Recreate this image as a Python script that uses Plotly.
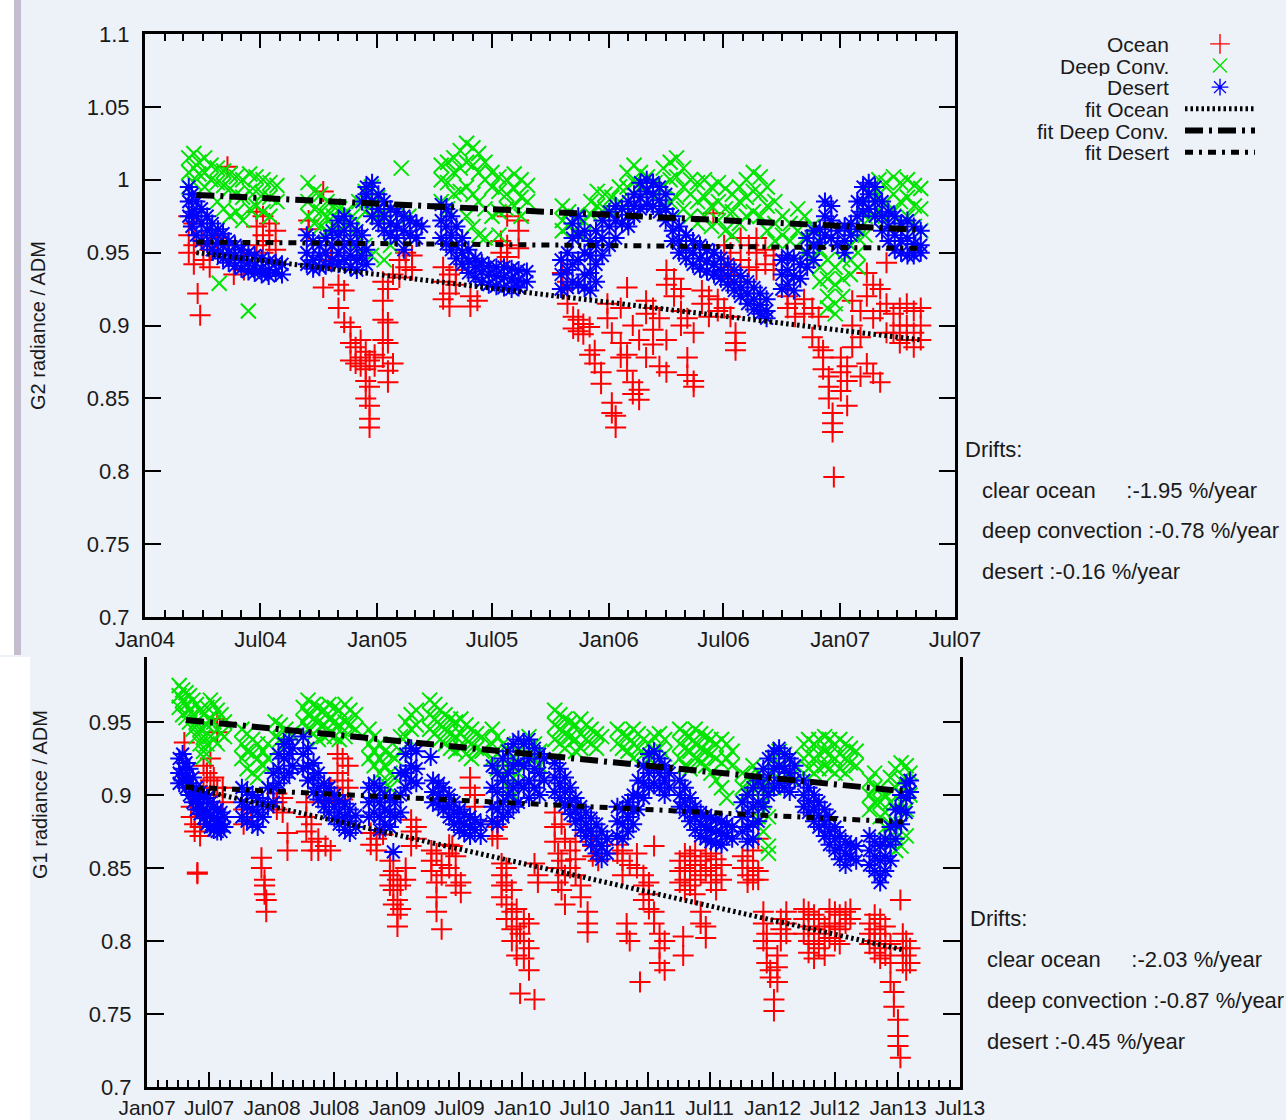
import plotly.graph_objects as go

# ---------------- DATA ----------------
# Top panel: G2 radiance / ADM, 2004-2007
g2_ocean = [
    ("2004-03-10", [0.975, 0.962, 0.950]), ("2004-03-18", [0.970, 0.955, 0.942]),
    ("2004-03-24", [0.922]), ("2004-03-28", [0.907]), ("2004-04-02", [0.958, 0.945]),
    ("2004-04-12", [0.952, 0.940]), ("2004-04-22", [0.960]), ("2004-05-10", [1.009, 0.955]),
    ("2004-05-20", [0.945, 0.935]), ("2004-06-05", [0.948, 0.938]),
    ("2004-06-25", [0.978, 0.968, 0.955]), ("2004-07-05", [0.975, 0.962, 0.950]),
    ("2004-07-15", [0.970, 0.958]), ("2004-07-25", [0.965, 0.952]),
    ("2004-09-15", [0.972, 0.966]), ("2004-10-08", [0.992, 0.926]), ("2004-10-20", [0.945]),
    ("2004-11-01", [0.928, 0.912]), ("2004-11-10", [0.924, 0.902]),
    ("2004-11-20", [0.899, 0.888, 0.876]), ("2004-11-28", [0.885, 0.874]),
    ("2004-12-06", [0.890, 0.878, 0.872]), ("2004-12-14", [0.882, 0.870, 0.862, 0.850]),
    ("2004-12-20", [0.876, 0.858, 0.845, 0.836, 0.830]), ("2004-12-28", [0.880, 0.872]),
    ("2005-01-10", [0.930, 0.917, 0.904, 0.890, 0.878]),
    ("2005-01-18", [0.925, 0.902, 0.888, 0.869, 0.861]), ("2005-01-26", [0.935, 0.874]),
    ("2005-02-05", [0.945, 0.933]), ("2005-02-15", [0.950, 0.940]), ("2005-02-25", [0.948, 0.938]),
    ("2005-04-15", [0.940, 0.930, 0.918]), ("2005-04-25", [0.935, 0.922, 0.913]),
    ("2005-05-05", [0.938, 0.928]), ("2005-05-28", [0.920, 0.913]), ("2005-06-08", [0.917]),
    ("2005-07-15", [0.958, 0.950]), ("2005-07-25", [0.955, 0.947, 0.975]),
    ("2005-08-12", [0.972, 0.965, 0.953]),
    ("2005-10-20", [0.936, 0.925]), ("2005-10-28", [0.930, 0.915]),
    ("2005-11-06", [0.906, 0.898]), ("2005-11-14", [0.904, 0.896]), ("2005-11-22", [0.901, 0.894]),
    ("2005-12-02", [0.899, 0.880]), ("2005-12-10", [0.883, 0.874]), ("2005-12-20", [0.868, 0.860]),
    ("2005-12-30", [0.915, 0.905]), ("2006-01-06", [0.847, 0.840, 0.895]),
    ("2006-01-12", [0.838, 0.830]), ("2006-01-20", [0.888, 0.878, 0.912]),
    ("2006-01-30", [0.926, 0.880, 0.869]), ("2006-02-08", [0.900, 0.861, 0.853]),
    ("2006-02-18", [0.890, 0.856, 0.849]), ("2006-03-01", [0.917, 0.908, 0.878]),
    ("2006-03-12", [0.912, 0.897, 0.887]), ("2006-03-22", [0.905, 0.872]),
    ("2006-04-02", [0.938, 0.928, 0.890, 0.868]), ("2006-04-14", [0.932, 0.920]),
    ("2006-04-25", [0.925, 0.910, 0.900]), ("2006-05-05", [0.905, 0.878, 0.866]),
    ("2006-05-15", [0.895, 0.862, 0.858]), ("2006-05-28", [0.924, 0.915]),
    ("2006-06-08", [0.920, 0.906]), ("2006-06-15", [0.977]), ("2006-06-22", [0.918, 0.910]),
    ("2006-07-02", [0.955, 0.940, 0.912]), ("2006-07-12", [0.950, 0.935, 0.906]),
    ("2006-07-20", [0.895, 0.888, 0.883]), ("2006-07-28", [0.960, 0.945, 0.930]),
    ("2006-08-10", [0.955, 0.940]), ("2006-08-22", [0.960, 0.950, 0.938]),
    ("2006-09-05", [0.952, 0.942]), ("2006-09-18", [0.948, 0.938]),
    ("2006-10-10", [0.920, 0.912]), ("2006-10-22", [0.915, 0.906]),
    ("2006-11-05", [0.918, 0.908]), ("2006-11-18", [0.912, 0.892]), ("2006-11-28", [0.885, 0.906]),
    ("2006-12-05", [0.878, 0.870, 0.883]), ("2006-12-14", [0.865, 0.858, 0.850]),
    ("2006-12-20", [0.840, 0.833, 0.827]), ("2006-12-22", [0.796]),
    ("2007-01-02", [0.878, 0.868, 0.855]), ("2007-01-12", [0.872, 0.862, 0.845]),
    ("2007-01-20", [0.917, 0.900, 0.885]), ("2007-02-02", [0.910, 0.892, 0.865]),
    ("2007-02-12", [0.936, 0.920, 0.874]), ("2007-02-22", [0.928, 0.905, 0.867]),
    ("2007-03-05", [0.925, 0.910, 0.861]), ("2007-03-15", [0.943, 0.915, 0.895]),
    ("2007-03-26", [0.908, 0.895]), ("2007-04-05", [0.912, 0.900, 0.888]),
    ("2007-04-16", [0.915, 0.900, 0.890]), ("2007-04-27", [0.910, 0.895, 0.885]),
    ("2007-05-08", [0.912, 0.900, 0.890]),
]
g2_deepconv = [
    ("2004-03-10", [1.015, 1.005, 0.995]), ("2004-03-18", [1.018, 1.008, 0.998]),
    ("2004-03-26", [1.012, 1.004]), ("2004-04-04", [1.015, 1.005, 0.995]),
    ("2004-04-14", [1.010, 1.000]), ("2004-04-24", [1.008, 0.998, 0.985]),
    ("2004-04-27", [0.929]), ("2004-05-04", [1.006, 0.996, 0.980]),
    ("2004-05-14", [1.004, 0.994, 0.975]), ("2004-05-24", [1.002, 0.990, 0.978]),
    ("2004-06-03", [1.000, 0.988, 0.972]), ("2004-06-12", [0.910]),
    ("2004-06-14", [1.004, 0.992, 0.980]), ("2004-06-24", [1.002, 0.992, 0.982]),
    ("2004-07-05", [1.000, 0.990, 0.978]), ("2004-07-16", [0.998, 0.988, 0.975]),
    ("2004-07-27", [0.996, 0.985]),
    ("2004-09-14", [0.998, 0.985, 0.975]), ("2004-09-24", [0.992, 0.980, 0.970]),
    ("2004-10-04", [0.990, 0.978, 0.968]), ("2004-10-14", [0.985, 0.975, 0.965]),
    ("2004-10-24", [0.982, 0.975, 0.968]), ("2004-11-03", [0.980, 0.972]),
    ("2004-11-13", [0.978, 0.970]), ("2004-11-23", [0.975, 0.965]),
    ("2004-12-03", [0.985, 0.960, 0.950]), ("2004-12-13", [0.992, 0.978, 0.955]),
    ("2004-12-23", [0.995, 0.982, 0.948]), ("2005-01-02", [0.988, 0.975]),
    ("2005-01-12", [0.978, 0.945]), ("2005-01-22", [0.970, 0.955]),
    ("2005-02-08", [1.008]), ("2005-02-20", [0.975]),
    ("2005-04-12", [1.010, 1.000, 0.985]), ("2005-04-22", [1.012, 0.998, 0.980]),
    ("2005-05-02", [1.015, 1.005, 0.990]), ("2005-05-12", [1.020, 1.008, 0.992]),
    ("2005-05-22", [1.025, 1.012, 0.995, 0.975]), ("2005-06-01", [1.022, 1.010, 0.990, 0.968]),
    ("2005-06-10", [1.018, 1.005, 0.985, 0.962]), ("2005-06-20", [1.012, 1.000, 0.980, 0.960]),
    ("2005-07-01", [1.005, 0.995, 0.975]), ("2005-07-12", [1.002, 0.992, 0.978, 0.962]),
    ("2005-07-24", [1.000, 0.990, 0.980]), ("2005-08-05", [1.004, 0.994, 0.982]),
    ("2005-08-16", [1.000, 0.988, 0.975]), ("2005-08-26", [0.996, 0.985]),
    ("2005-10-20", [0.982, 0.972, 0.965]), ("2005-10-30", [0.978, 0.968]),
    ("2005-11-10", [0.975, 0.965]), ("2005-11-22", [0.972, 0.962]),
    ("2005-12-04", [0.985, 0.976]), ("2005-12-14", [0.992, 0.982]),
    ("2005-12-26", [0.990, 0.980]), ("2006-01-06", [0.988, 0.978]),
    ("2006-01-18", [0.995, 0.985]), ("2006-01-30", [1.005, 0.995]),
    ("2006-02-10", [1.010, 0.998]), ("2006-02-20", [1.005, 0.995]),
    ("2006-03-03", [1.002, 0.992]), ("2006-03-15", [0.998, 0.988]),
    ("2006-03-28", [1.008, 0.996, 0.982]), ("2006-04-08", [1.012, 1.000, 0.985]),
    ("2006-04-18", [1.015, 1.002, 0.988]), ("2006-04-29", [1.008, 0.995, 0.980]),
    ("2006-05-10", [1.000, 0.990, 0.975]), ("2006-05-21", [0.998, 0.985, 0.970]),
    ("2006-06-01", [1.000, 0.988, 0.975]), ("2006-06-12", [0.995, 0.982, 0.968]),
    ("2006-06-23", [0.998, 0.985, 0.972]), ("2006-07-04", [0.994, 0.980, 0.965]),
    ("2006-07-15", [0.990, 0.978, 0.962]), ("2006-07-26", [0.995, 0.985, 0.970]),
    ("2006-08-06", [1.000, 0.988, 0.975]), ("2006-08-17", [1.005, 0.992, 0.978]),
    ("2006-08-28", [1.002, 0.990, 0.975]), ("2006-09-08", [0.995, 0.982, 0.965]),
    ("2006-09-20", [0.985, 0.970, 0.958]), ("2006-10-02", [0.975, 0.962]),
    ("2006-10-14", [0.970, 0.958]), ("2006-10-26", [0.980, 0.965]),
    ("2006-11-06", [0.975, 0.960, 0.950]), ("2006-11-18", [0.968, 0.955, 0.945]),
    ("2006-11-30", [0.952, 0.940, 0.930]), ("2006-12-12", [0.945, 0.932, 0.920, 0.912]),
    ("2006-12-24", [0.940, 0.928, 0.915, 0.908]), ("2007-01-05", [0.945, 0.932, 0.920]),
    ("2007-01-17", [0.955, 0.945, 0.935]), ("2007-01-29", [0.960, 0.950, 0.940]),
    ("2007-02-09", [0.975, 0.962]), ("2007-02-20", [0.990, 0.975]),
    ("2007-03-03", [1.000, 0.990, 0.978]), ("2007-03-14", [0.998, 0.985, 0.972]),
    ("2007-03-26", [1.002, 0.990, 0.978]), ("2007-04-06", [0.998, 0.985, 0.970]),
    ("2007-04-17", [1.000, 0.988, 0.975]), ("2007-04-28", [0.996, 0.982, 0.968]),
    ("2007-05-08", [0.994, 0.980, 0.965]),
]
g2_desert = [
    ("2004-03-10", [0.995, 0.985, 0.975]), ("2004-03-15", [0.990, 0.978, 0.968]),
    ("2004-03-22", [0.985, 0.975, 0.962]), ("2004-03-30", [0.980, 0.970, 0.958]),
    ("2004-04-08", [0.975, 0.965, 0.956]), ("2004-04-16", [0.970, 0.962, 0.952]),
    ("2004-04-25", [0.966, 0.957, 0.949]), ("2004-05-03", [0.963, 0.955, 0.946]),
    ("2004-05-12", [0.958, 0.950, 0.943]), ("2004-05-22", [0.955, 0.948, 0.941]),
    ("2004-06-01", [0.952, 0.945, 0.939]), ("2004-06-12", [0.950, 0.943, 0.937]),
    ("2004-06-22", [0.948, 0.941, 0.936]), ("2004-07-03", [0.946, 0.939, 0.935]),
    ("2004-07-14", [0.944, 0.938, 0.934]), ("2004-07-25", [0.943, 0.936]),
    ("2004-08-04", [0.942, 0.935]),
    ("2004-09-12", [0.962, 0.950, 0.942]), ("2004-09-22", [0.958, 0.945, 0.939]),
    ("2004-10-02", [0.955, 0.948, 0.940]), ("2004-10-12", [0.960, 0.950, 0.941]),
    ("2004-10-22", [0.965, 0.955, 0.944]), ("2004-11-01", [0.972, 0.962, 0.950, 0.942]),
    ("2004-11-10", [0.975, 0.965, 0.955, 0.945]), ("2004-11-20", [0.970, 0.958, 0.948, 0.940]),
    ("2004-11-30", [0.965, 0.955, 0.945, 0.938]), ("2004-12-08", [0.985, 0.962, 0.948]),
    ("2004-12-15", [0.995, 0.990, 0.952, 0.942]), ("2004-12-24", [0.998, 0.985, 0.975]),
    ("2005-01-03", [0.990, 0.980, 0.970]), ("2005-01-12", [0.985, 0.975, 0.965]),
    ("2005-01-22", [0.980, 0.970, 0.962]), ("2005-02-01", [0.978, 0.968, 0.960]),
    ("2005-02-12", [0.975, 0.965, 0.952]), ("2005-02-22", [0.972, 0.962]),
    ("2005-03-04", [0.970, 0.960]), ("2005-03-12", [0.968]),
    ("2005-04-12", [0.983, 0.972, 0.960]), ("2005-04-20", [0.980, 0.968, 0.956]),
    ("2005-04-28", [0.975, 0.962, 0.952]), ("2005-05-06", [0.968, 0.955, 0.946]),
    ("2005-05-15", [0.960, 0.950, 0.942]), ("2005-05-25", [0.952, 0.944, 0.936]),
    ("2005-06-05", [0.946, 0.940, 0.933]), ("2005-06-15", [0.943, 0.937, 0.930]),
    ("2005-06-26", [0.941, 0.935, 0.928]), ("2005-07-08", [0.940, 0.934, 0.927]),
    ("2005-07-20", [0.940, 0.933, 0.926]), ("2005-08-01", [0.939, 0.932, 0.925]),
    ("2005-08-12", [0.938, 0.931, 0.926]), ("2005-08-25", [0.937, 0.930]),
    ("2005-10-18", [0.945, 0.935, 0.925]), ("2005-10-28", [0.950, 0.938, 0.926]),
    ("2005-11-05", [0.970, 0.960, 0.942, 0.930]), ("2005-11-14", [0.975, 0.962, 0.945, 0.928]),
    ("2005-11-24", [0.965, 0.950, 0.935, 0.926]), ("2005-12-03", [0.958, 0.948, 0.936, 0.924]),
    ("2005-12-12", [0.965, 0.955, 0.942, 0.930]), ("2005-12-22", [0.972, 0.960, 0.948]),
    ("2006-01-02", [0.978, 0.968, 0.955]), ("2006-01-12", [0.982, 0.972, 0.960]),
    ("2006-01-22", [0.980, 0.970]), ("2006-02-01", [0.985, 0.976, 0.968]),
    ("2006-02-10", [0.990, 0.982, 0.975]), ("2006-02-20", [0.998, 0.988, 0.980]),
    ("2006-03-02", [1.000, 0.992, 0.983]), ("2006-03-12", [0.998, 0.990, 0.982]),
    ("2006-03-22", [0.995, 0.986, 0.978]), ("2006-04-01", [0.990, 0.980, 0.972]),
    ("2006-04-12", [0.975, 0.965, 0.958]), ("2006-04-22", [0.968, 0.958, 0.950]),
    ("2006-05-03", [0.962, 0.953, 0.946]), ("2006-05-14", [0.958, 0.950, 0.942]),
    ("2006-05-25", [0.955, 0.946, 0.939]), ("2006-06-05", [0.952, 0.944, 0.937]),
    ("2006-06-16", [0.950, 0.942, 0.935]), ("2006-06-27", [0.946, 0.938, 0.932]),
    ("2006-07-08", [0.942, 0.934, 0.928]), ("2006-07-18", [0.938, 0.930, 0.924]),
    ("2006-07-28", [0.934, 0.926, 0.920]), ("2006-08-08", [0.930, 0.922, 0.915]),
    ("2006-08-18", [0.926, 0.918, 0.911]), ("2006-08-28", [0.922, 0.914, 0.908]),
    ("2006-09-07", [0.918, 0.910, 0.905]),
    ("2006-10-01", [0.945, 0.935, 0.925]), ("2006-10-10", [0.948, 0.938, 0.928]),
    ("2006-10-20", [0.946, 0.934, 0.924]), ("2006-10-30", [0.942, 0.932]),
    ("2006-11-10", [0.960, 0.950, 0.940]), ("2006-11-20", [0.965, 0.955, 0.945]),
    ("2006-11-30", [0.966, 0.957]), ("2006-12-08", [0.985, 0.975, 0.962]),
    ("2006-12-18", [0.982, 0.972, 0.960]), ("2006-12-28", [0.965, 0.955]),
    ("2007-01-08", [0.968, 0.958, 0.950]), ("2007-01-18", [0.970, 0.962]),
    ("2007-01-28", [0.985, 0.975, 0.966]), ("2007-02-06", [0.995, 0.985, 0.978]),
    ("2007-02-15", [0.998, 0.990, 0.980]), ("2007-02-25", [0.995, 0.985, 0.975]),
    ("2007-03-08", [0.985, 0.975, 0.965]), ("2007-03-18", [0.978, 0.968, 0.958]),
    ("2007-03-28", [0.975, 0.962, 0.952]), ("2007-04-07", [0.970, 0.958, 0.950]),
    ("2007-04-17", [0.972, 0.960, 0.948]), ("2007-04-27", [0.968, 0.956, 0.948]),
    ("2007-05-08", [0.965, 0.955, 0.950]),
]
g2_fit_dates = ["2004-03-22", "2007-05-10"]
g2_fit_ocean = [0.950, 0.890]
g2_fit_deepconv = [0.9896, 0.9656]
g2_fit_desert = [0.9573, 0.9530]
g2_drifts = ["clear ocean\u00a0\u00a0\u00a0\u00a0\u00a0:-1.95 %/year",
             "deep convection :-0.78 %/year", "desert :-0.16 %/year"]

# Bottom panel: G1 radiance / ADM, 2007-2013
g1_ocean = [
    ("2007-04-20", [0.936]), ("2007-05-10", [0.892, 0.885]), ("2007-05-20", [0.880, 0.875]),
    ("2007-05-28", [0.847, 0.846]), ("2007-06-05", [0.878, 0.872]), ("2007-06-15", [0.920, 0.905]),
    ("2007-06-25", [0.915, 0.900, 0.885]), ("2007-07-05", [0.925, 0.910]),
    ("2007-07-15", [0.912, 0.900]), ("2007-07-25", [0.952, 0.943, 0.905]), ("2007-08-10", [0.905, 0.895]),
    ("2007-10-10", [0.890, 0.880]), ("2007-11-01", [0.885]), ("2007-12-01", [0.857, 0.850]),
    ("2007-12-10", [0.842, 0.838, 0.832]), ("2007-12-15", [0.828, 0.820]),
    ("2008-01-15", [0.901, 0.895, 0.890]), ("2008-02-01", [0.898, 0.888]), ("2008-02-15", [0.874, 0.862]),
    ("2008-04-10", [0.895, 0.885, 0.875]), ("2008-04-25", [0.880, 0.868, 0.862]),
    ("2008-05-15", [0.870, 0.862]), ("2008-06-05", [0.900, 0.895, 0.865]),
    ("2008-06-20", [0.905, 0.862]), ("2008-07-10", [0.928, 0.915, 0.900]),
    ("2008-07-25", [0.925, 0.910, 0.897]), ("2008-08-10", [0.920, 0.905]),
    ("2008-10-15", [0.874, 0.866]), ("2008-11-01", [0.870, 0.862]), ("2008-11-20", [0.873]),
    ("2008-12-10", [0.855, 0.845, 0.838]), ("2008-12-20", [0.848, 0.835, 0.825]),
    ("2009-01-01", [0.842, 0.828, 0.818, 0.810]), ("2009-01-10", [0.838, 0.822]),
    ("2009-01-25", [0.850, 0.842]), ("2009-02-10", [0.883, 0.875, 0.865]), ("2009-02-25", [0.878, 0.870]),
    ("2009-04-10", [0.862, 0.855, 0.848]), ("2009-04-25", [0.860, 0.840, 0.830, 0.820]),
    ("2009-05-10", [0.852, 0.845, 0.808]), ("2009-06-01", [0.866, 0.860, 0.850]),
    ("2009-06-10", [0.865]), ("2009-06-20", [0.858, 0.845, 0.838]), ("2009-07-05", [0.840, 0.833]),
    ("2009-08-01", [0.912, 0.905]), ("2009-08-15", [0.900, 0.892]),
    ("2009-10-05", [0.882, 0.872]), ("2009-10-20", [0.878, 0.870]),
    ("2009-11-01", [0.853, 0.845, 0.838, 0.830]), ("2009-11-15", [0.850, 0.840, 0.825, 0.815]),
    ("2009-12-01", [0.835, 0.820, 0.808, 0.800]), ("2009-12-15", [0.822, 0.810, 0.800, 0.790]),
    ("2009-12-25", [0.764, 0.805]), ("2010-01-05", [0.815, 0.800, 0.788]),
    ("2010-01-20", [0.812, 0.795, 0.780]), ("2010-02-05", [0.760, 0.853]), ("2010-02-15", [0.845, 0.840]),
    ("2010-04-05", [0.888, 0.878, 0.868]), ("2010-04-15", [0.860, 0.850, 0.840]),
    ("2010-04-25", [0.880, 0.855, 0.835]), ("2010-05-05", [0.870, 0.845, 0.825]),
    ("2010-05-20", [0.862, 0.850]), ("2010-06-05", [0.868, 0.856, 0.845]),
    ("2010-06-20", [0.838, 0.830]), ("2010-07-10", [0.820, 0.812, 0.806]),
    ("2010-07-25", [0.865, 0.858]), ("2010-08-10", [0.855]),
    ("2010-10-05", [0.866, 0.860]), ("2010-10-20", [0.862, 0.855, 0.845]),
    ("2010-11-01", [0.812, 0.805]), ("2010-11-10", [0.800, 0.852]), ("2010-12-01", [0.860, 0.850]),
    ("2010-12-10", [0.772]), ("2010-12-20", [0.845, 0.838, 0.828]),
    ("2011-01-05", [0.840, 0.832, 0.822]), ("2011-01-20", [0.865, 0.820, 0.812]),
    ("2011-02-05", [0.805, 0.795, 0.785]), ("2011-02-20", [0.800, 0.780]),
    ("2011-04-05", [0.855, 0.848, 0.840]), ("2011-04-15", [0.803, 0.790]),
    ("2011-04-20", [0.860, 0.850, 0.842, 0.835]), ("2011-05-05", [0.858, 0.848, 0.838]),
    ("2011-05-20", [0.862, 0.852, 0.842, 0.832]), ("2011-06-05", [0.855, 0.845, 0.820, 0.812]),
    ("2011-06-20", [0.858, 0.848, 0.810, 0.802]), ("2011-07-05", [0.860, 0.850, 0.840]),
    ("2011-07-20", [0.856, 0.845, 0.835]), ("2011-08-05", [0.852, 0.842]),
    ("2011-10-05", [0.858, 0.850]), ("2011-10-20", [0.855, 0.845, 0.840]),
    ("2011-11-05", [0.862, 0.850, 0.842]), ("2011-11-20", [0.848, 0.842, 0.870]),
    ("2011-12-05", [0.820, 0.812, 0.800]), ("2011-12-15", [0.805, 0.795, 0.785]),
    ("2011-12-25", [0.780, 0.775]), ("2012-01-05", [0.760, 0.752]),
    ("2012-01-15", [0.790, 0.782, 0.772]), ("2012-01-25", [0.815, 0.808, 0.800]),
    ("2012-02-10", [0.820, 0.812, 0.805]),
    ("2012-04-01", [0.822, 0.815, 0.805]), ("2012-04-15", [0.820, 0.810, 0.800, 0.792]),
    ("2012-05-01", [0.818, 0.808, 0.798, 0.788]), ("2012-05-15", [0.815, 0.805, 0.795]),
    ("2012-06-01", [0.810, 0.800, 0.790]), ("2012-06-15", [0.822, 0.812, 0.802]),
    ("2012-07-01", [0.820, 0.810, 0.800]), ("2012-07-15", [0.818, 0.808, 0.798]),
    ("2012-08-01", [0.820, 0.812]), ("2012-08-15", [0.822, 0.815]),
    ("2012-10-10", [0.812, 0.805, 0.798]), ("2012-10-25", [0.818, 0.808, 0.800, 0.792]),
    ("2012-11-10", [0.815, 0.805, 0.795, 0.788]), ("2012-11-25", [0.810, 0.800, 0.790]),
    ("2012-12-10", [0.798, 0.785, 0.772]), ("2012-12-20", [0.765, 0.755]),
    ("2013-01-01", [0.746, 0.735, 0.728]), ("2013-01-08", [0.720, 0.828]),
    ("2013-01-15", [0.805, 0.795, 0.785]), ("2013-01-25", [0.800, 0.790, 0.780]),
    ("2013-02-05", [0.795, 0.785]),
]
g1_deepconv = [
    ("2007-04-05", [0.975, 0.968, 0.960]), ("2007-04-15", [0.972, 0.965, 0.955]),
    ("2007-04-25", [0.970, 0.962, 0.953]), ("2007-05-05", [0.968, 0.958, 0.950]),
    ("2007-05-15", [0.965, 0.955, 0.945]), ("2007-05-25", [0.962, 0.950, 0.940]),
    ("2007-06-05", [0.958, 0.945, 0.935]), ("2007-06-15", [0.955, 0.940, 0.930, 0.926]),
    ("2007-06-25", [0.960, 0.948, 0.935]), ("2007-07-05", [0.965, 0.952, 0.940]),
    ("2007-07-15", [0.962, 0.950, 0.938]), ("2007-07-25", [0.958, 0.945, 0.935]),
    ("2007-08-05", [0.955, 0.942]), ("2007-08-15", [0.950, 0.940]),
    ("2007-10-05", [0.945, 0.935, 0.925]), ("2007-10-20", [0.942, 0.930, 0.918]),
    ("2007-11-05", [0.938, 0.928, 0.915]), ("2007-11-20", [0.935, 0.925, 0.912]),
    ("2007-12-05", [0.930, 0.920]), ("2007-12-20", [0.935, 0.925]),
    ("2008-01-10", [0.950, 0.940]), ("2008-01-25", [0.948, 0.938]),
    ("2008-02-10", [0.945, 0.935]), ("2008-02-25", [0.942]),
    ("2008-04-01", [0.960, 0.950, 0.940]), ("2008-04-15", [0.965, 0.955, 0.945]),
    ("2008-05-01", [0.962, 0.952, 0.942]), ("2008-05-15", [0.960, 0.950, 0.938]),
    ("2008-06-01", [0.958, 0.948, 0.940]), ("2008-06-15", [0.962, 0.952, 0.942]),
    ("2008-07-01", [0.960, 0.950, 0.940]), ("2008-07-15", [0.958, 0.948, 0.938]),
    ("2008-08-01", [0.962, 0.950, 0.940]), ("2008-08-15", [0.958, 0.948]),
    ("2008-09-01", [0.955, 0.945]),
    ("2008-10-10", [0.945, 0.935, 0.925]), ("2008-10-25", [0.940, 0.930, 0.920]),
    ("2008-11-10", [0.935, 0.925, 0.915]), ("2008-11-25", [0.930, 0.920, 0.908]),
    ("2008-12-10", [0.928, 0.915, 0.905]), ("2008-12-25", [0.925, 0.912]),
    ("2009-01-10", [0.940, 0.930]), ("2009-01-25", [0.950, 0.940]),
    ("2009-02-10", [0.955, 0.945]), ("2009-02-25", [0.958, 0.948]),
    ("2009-04-05", [0.965, 0.955, 0.945]), ("2009-04-20", [0.962, 0.952, 0.942]),
    ("2009-05-05", [0.958, 0.948, 0.938]), ("2009-05-20", [0.955, 0.945, 0.935]),
    ("2009-06-05", [0.952, 0.942, 0.932]), ("2009-06-20", [0.950, 0.940, 0.930]),
    ("2009-07-05", [0.952, 0.942, 0.932]), ("2009-07-20", [0.948, 0.938, 0.928]),
    ("2009-08-05", [0.945, 0.935, 0.925]), ("2009-08-20", [0.942, 0.932]),
    ("2009-09-05", [0.940, 0.930]),
    ("2009-10-05", [0.945, 0.935, 0.925]), ("2009-10-20", [0.940, 0.928, 0.918]),
    ("2009-11-05", [0.935, 0.925, 0.912]), ("2009-11-20", [0.930, 0.918, 0.905]),
    ("2009-12-05", [0.925, 0.912, 0.900]), ("2009-12-20", [0.930, 0.915]),
    ("2010-01-05", [0.935, 0.920]), ("2010-01-20", [0.940, 0.928]),
    ("2010-02-05", [0.935, 0.925]), ("2010-02-20", [0.930, 0.920]),
    ("2010-04-05", [0.958, 0.948, 0.938]), ("2010-04-20", [0.955, 0.945, 0.935]),
    ("2010-05-05", [0.952, 0.942, 0.932]), ("2010-05-20", [0.950, 0.940]),
    ("2010-06-05", [0.948, 0.938, 0.930]), ("2010-06-20", [0.952, 0.942, 0.932]),
    ("2010-07-05", [0.948, 0.938]), ("2010-07-20", [0.945, 0.935]),
    ("2010-08-05", [0.942, 0.932]), ("2010-08-20", [0.940]),
    ("2010-10-05", [0.945, 0.935]), ("2010-10-20", [0.942, 0.932]),
    ("2010-11-05", [0.940, 0.930]), ("2010-11-20", [0.945, 0.935, 0.925]),
    ("2010-12-05", [0.942, 0.932]), ("2010-12-20", [0.938, 0.928]),
    ("2011-01-05", [0.935, 0.925]), ("2011-01-20", [0.940, 0.930]),
    ("2011-02-05", [0.942, 0.932]), ("2011-02-20", [0.938, 0.928]),
    ("2011-04-05", [0.945, 0.935, 0.925]), ("2011-04-20", [0.942, 0.932, 0.920]),
    ("2011-05-05", [0.940, 0.930, 0.918]), ("2011-05-20", [0.945, 0.935, 0.925]),
    ("2011-06-05", [0.942, 0.932, 0.922]), ("2011-06-20", [0.940, 0.930, 0.920]),
    ("2011-07-05", [0.938, 0.928, 0.915]), ("2011-07-20", [0.935, 0.925, 0.910]),
    ("2011-08-05", [0.938, 0.922, 0.905]), ("2011-08-20", [0.935, 0.925, 0.898]),
    ("2011-09-05", [0.930, 0.920]),
    ("2011-10-05", [0.915, 0.905, 0.895]), ("2011-10-20", [0.912, 0.902]),
    ("2011-11-05", [0.920, 0.910]), ("2011-11-20", [0.915, 0.905, 0.885]),
    ("2011-12-05", [0.910, 0.895, 0.875]), ("2011-12-20", [0.905, 0.885, 0.865, 0.860]),
    ("2012-01-05", [0.925, 0.915, 0.905]), ("2012-01-20", [0.930, 0.920, 0.910]),
    ("2012-02-05", [0.928, 0.918, 0.905]), ("2012-02-20", [0.925, 0.912]),
    ("2012-04-01", [0.935, 0.925, 0.915]), ("2012-04-15", [0.938, 0.928, 0.918]),
    ("2012-05-01", [0.935, 0.925, 0.915]), ("2012-05-15", [0.938, 0.928, 0.918]),
    ("2012-06-01", [0.940, 0.930, 0.920]), ("2012-06-15", [0.938, 0.928, 0.918]),
    ("2012-07-01", [0.935, 0.925, 0.915]), ("2012-07-15", [0.938, 0.928, 0.918]),
    ("2012-08-01", [0.935, 0.925, 0.915]), ("2012-08-15", [0.932, 0.922]),
    ("2012-09-01", [0.930, 0.920]),
    ("2012-10-10", [0.910, 0.900, 0.890]), ("2012-10-25", [0.915, 0.905, 0.895]),
    ("2012-11-10", [0.905, 0.895, 0.885]), ("2012-11-25", [0.900, 0.888, 0.878]),
    ("2012-12-10", [0.912, 0.895, 0.880, 0.868]), ("2012-12-25", [0.918, 0.905, 0.890, 0.875, 0.862]),
    ("2013-01-10", [0.922, 0.910, 0.895, 0.880, 0.865]), ("2013-01-25", [0.920, 0.905, 0.890, 0.872]),
    ("2013-02-05", [0.915, 0.900]),
]
g1_desert = [
    ("2007-04-05", [0.925, 0.915, 0.908]), ("2007-04-15", [0.928, 0.918, 0.910]),
    ("2007-04-25", [0.922, 0.912, 0.905]), ("2007-05-05", [0.918, 0.908, 0.900]),
    ("2007-05-15", [0.912, 0.902, 0.895]), ("2007-05-25", [0.905, 0.897, 0.890]),
    ("2007-06-05", [0.902, 0.894, 0.887]), ("2007-06-15", [0.900, 0.890, 0.884]),
    ("2007-06-25", [0.898, 0.888, 0.880]), ("2007-07-05", [0.895, 0.886, 0.878]),
    ("2007-07-15", [0.892, 0.884, 0.876]), ("2007-07-25", [0.890, 0.882, 0.875]),
    ("2007-08-05", [0.888, 0.880, 0.875]), ("2007-08-15", [0.885, 0.878]),
    ("2007-10-05", [0.905, 0.895, 0.885]), ("2007-10-20", [0.902, 0.892, 0.882]),
    ("2007-11-05", [0.900, 0.890, 0.880]), ("2007-11-20", [0.898, 0.888, 0.878]),
    ("2007-12-05", [0.895, 0.885]), ("2007-12-20", [0.905, 0.892]),
    ("2008-01-05", [0.915, 0.905, 0.895]), ("2008-01-20", [0.928, 0.918, 0.908]),
    ("2008-02-05", [0.935, 0.925, 0.912]), ("2008-02-20", [0.938, 0.928, 0.915]),
    ("2008-03-01", [0.932, 0.920]),
    ("2008-04-01", [0.940, 0.928, 0.918]), ("2008-04-15", [0.932, 0.920, 0.910]),
    ("2008-05-01", [0.922, 0.912, 0.902]), ("2008-05-15", [0.915, 0.905, 0.897]),
    ("2008-06-01", [0.908, 0.900, 0.892]), ("2008-06-15", [0.905, 0.896, 0.888]),
    ("2008-07-01", [0.900, 0.892, 0.884]), ("2008-07-15", [0.896, 0.888, 0.880]),
    ("2008-08-01", [0.894, 0.885, 0.876]), ("2008-08-15", [0.890, 0.882, 0.874]),
    ("2008-09-01", [0.886, 0.878]),
    ("2008-10-10", [0.905, 0.895, 0.885]), ("2008-10-25", [0.908, 0.898, 0.888]),
    ("2008-11-10", [0.905, 0.895, 0.885, 0.876]), ("2008-11-25", [0.900, 0.890, 0.880]),
    ("2008-12-10", [0.898, 0.888, 0.878]), ("2008-12-20", [0.861]),
    ("2008-12-25", [0.895, 0.885]), ("2009-01-10", [0.915, 0.900, 0.888]),
    ("2009-01-25", [0.928, 0.915, 0.905]), ("2009-02-10", [0.932, 0.920, 0.910]),
    ("2009-02-25", [0.930, 0.918, 0.908]),
    ("2009-04-08", [0.926]), ("2009-04-15", [0.910, 0.902, 0.895]),
    ("2009-05-01", [0.908, 0.900, 0.893]), ("2009-05-15", [0.905, 0.897, 0.890]),
    ("2009-06-01", [0.900, 0.892, 0.885]), ("2009-06-15", [0.895, 0.888, 0.880]),
    ("2009-07-01", [0.890, 0.882, 0.876]), ("2009-07-15", [0.887, 0.880, 0.874]),
    ("2009-08-01", [0.885, 0.878, 0.872]), ("2009-08-15", [0.883, 0.876]),
    ("2009-09-01", [0.880, 0.872]),
    ("2009-10-05", [0.920, 0.905, 0.892, 0.882]), ("2009-10-20", [0.915, 0.902, 0.890, 0.880]),
    ("2009-11-05", [0.925, 0.910, 0.895, 0.885]), ("2009-11-20", [0.930, 0.915, 0.900, 0.888]),
    ("2009-12-05", [0.935, 0.920, 0.905, 0.892]), ("2009-12-20", [0.938, 0.922, 0.908, 0.895]),
    ("2010-01-05", [0.935, 0.920, 0.905]), ("2010-01-20", [0.938, 0.925, 0.910, 0.898]),
    ("2010-02-05", [0.932, 0.918, 0.905]), ("2010-02-20", [0.928, 0.915, 0.900]),
    ("2010-03-05", [0.925, 0.910]),
    ("2010-04-05", [0.922, 0.912, 0.902]), ("2010-04-20", [0.918, 0.908, 0.898]),
    ("2010-05-05", [0.912, 0.902, 0.893]), ("2010-05-20", [0.905, 0.895, 0.887]),
    ("2010-06-05", [0.898, 0.890, 0.882]), ("2010-06-20", [0.892, 0.884, 0.876]),
    ("2010-07-05", [0.888, 0.880, 0.872]), ("2010-07-20", [0.884, 0.875, 0.866]),
    ("2010-08-05", [0.880, 0.870, 0.860]), ("2010-08-20", [0.875, 0.865, 0.856]),
    ("2010-09-05", [0.870, 0.860]),
    ("2010-10-05", [0.892, 0.882, 0.872]), ("2010-10-20", [0.890, 0.880, 0.870]),
    ("2010-11-05", [0.895, 0.885, 0.875]), ("2010-11-20", [0.900, 0.890, 0.880]),
    ("2010-12-05", [0.910, 0.900, 0.890]), ("2010-12-20", [0.920, 0.908, 0.898]),
    ("2011-01-05", [0.928, 0.915, 0.905]), ("2011-01-20", [0.930, 0.918, 0.908]),
    ("2011-02-05", [0.925, 0.915, 0.905]), ("2011-02-20", [0.920, 0.910, 0.900]),
    ("2011-03-05", [0.915, 0.905]),
    ("2011-04-05", [0.910, 0.900, 0.892]), ("2011-04-20", [0.905, 0.895, 0.888]),
    ("2011-05-05", [0.898, 0.890, 0.882]), ("2011-05-20", [0.892, 0.885, 0.876]),
    ("2011-06-05", [0.888, 0.880, 0.872]), ("2011-06-20", [0.886, 0.878, 0.870]),
    ("2011-07-05", [0.884, 0.876, 0.868]), ("2011-07-20", [0.883, 0.875, 0.867]),
    ("2011-08-05", [0.882, 0.874, 0.866]), ("2011-08-20", [0.880, 0.872]),
    ("2011-09-05", [0.878, 0.870]),
    ("2011-10-05", [0.895, 0.885, 0.875]), ("2011-10-20", [0.900, 0.888, 0.878, 0.868]),
    ("2011-11-05", [0.905, 0.892, 0.880, 0.870]), ("2011-11-20", [0.910, 0.895, 0.882]),
    ("2011-12-05", [0.918, 0.905, 0.892]), ("2011-12-20", [0.925, 0.912, 0.900]),
    ("2012-01-05", [0.930, 0.918, 0.905]), ("2012-01-20", [0.932, 0.920, 0.908]),
    ("2012-02-05", [0.928, 0.918, 0.905]), ("2012-02-20", [0.925, 0.915, 0.902]),
    ("2012-03-05", [0.920, 0.910]),
    ("2012-04-01", [0.910, 0.900, 0.892]), ("2012-04-15", [0.905, 0.896, 0.888]),
    ("2012-05-01", [0.900, 0.890, 0.882]), ("2012-05-15", [0.895, 0.886, 0.878]),
    ("2012-06-01", [0.890, 0.880, 0.872]), ("2012-06-15", [0.885, 0.875, 0.866]),
    ("2012-07-01", [0.878, 0.870, 0.862]), ("2012-07-15", [0.872, 0.864, 0.856]),
    ("2012-08-01", [0.868, 0.860, 0.852]), ("2012-08-15", [0.866, 0.858]),
    ("2012-09-01", [0.865, 0.855]),
    ("2012-10-10", [0.872, 0.862, 0.852]), ("2012-10-25", [0.868, 0.858, 0.848]),
    ("2012-11-10", [0.865, 0.855, 0.845, 0.840]), ("2012-11-25", [0.870, 0.858, 0.848]),
    ("2012-12-10", [0.878, 0.866, 0.855]), ("2012-12-25", [0.890, 0.880, 0.870]),
    ("2013-01-10", [0.900, 0.890, 0.880]), ("2013-01-25", [0.908, 0.898, 0.888]),
    ("2013-02-05", [0.910, 0.902]),
]
g1_fit_dates = ["2007-04-25", "2013-01-15"]
g1_fit_ocean = [0.9055, 0.7940]
g1_fit_deepconv = [0.9514, 0.9027]
g1_fit_desert = [0.9055, 0.8815]
g1_drifts = ["clear ocean\u00a0\u00a0\u00a0\u00a0\u00a0:-2.03 %/year",
             "deep convection :-0.87 %/year", "desert :-0.45 %/year"]

legend_labels = ["Ocean", "Deep Conv.", "Desert", "fit Ocean", "fit Deep Conv.", "fit Desert"]

# ---------------- STYLE ----------------
W, H = 1286, 1120
BG = "#edf1f8"
FONT = "Liberation Sans, Arial, Helvetica, sans-serif"
TXT = "#1a1a1a"
RED, GREEN, BLUE = "#ff0000", "#00e400", "#0000ff"
DASH_OCEAN = "2.5px,3px"
DASH_DEEP = "18px,6px,3px,6px"
DASH_DESERT = "8px,6px,3px,6px"


def px(x):
    return x / W


def py(y):
    return 1 - y / H


def flat(groups):
    xs, ys = [], []
    for d, vals in groups:
        for v in vals:
            xs.append(d)
            ys.append(v)
    return xs, ys


mk = {
    "ocean": dict(symbol="cross-thin-open", size=15, color=RED, line=dict(width=2, color=RED)),
    "deep": dict(symbol="x-thin-open", size=15, color=GREEN, line=dict(width=2, color=GREEN)),
    "desert": dict(symbol="asterisk-open", size=15, color=BLUE, line=dict(width=2, color=BLUE)),
}
mk_leg = {
    "ocean": dict(symbol="cross-thin-open", size=14, color=RED, line=dict(width=1.4, color=RED)),
    "deep": dict(symbol="x-thin-open", size=14, color=GREEN, line=dict(width=1.4, color=GREEN)),
    "desert": dict(symbol="asterisk-open", size=14, color=BLUE, line=dict(width=1.4, color=BLUE)),
}

fig = go.Figure()

for (oc, dc, de, fd, fo, fdc, fde, xa, ya) in [
    (g2_ocean, g2_deepconv, g2_desert, g2_fit_dates, g2_fit_ocean, g2_fit_deepconv, g2_fit_desert, "x", "y"),
    (g1_ocean, g1_deepconv, g1_desert, g1_fit_dates, g1_fit_ocean, g1_fit_deepconv, g1_fit_desert, "x2", "y2"),
]:
    for grp, key in [(oc, "ocean"), (dc, "deep"), (de, "desert")]:
        xs, ys = flat(grp)
        fig.add_trace(go.Scatter(x=xs, y=ys, mode="markers", marker=mk[key],
                                 xaxis=xa, yaxis=ya, showlegend=False, hoverinfo="skip"))
    fig.add_trace(go.Scatter(x=fd, y=fo, mode="lines", line=dict(color="black", width=5, dash=DASH_OCEAN),
                             xaxis=xa, yaxis=ya, showlegend=False))
    fig.add_trace(go.Scatter(x=fd, y=fdc, mode="lines", line=dict(color="black", width=6, dash=DASH_DEEP),
                             xaxis=xa, yaxis=ya, showlegend=False))
    fig.add_trace(go.Scatter(x=fd, y=fde, mode="lines", line=dict(color="black", width=5, dash=DASH_DESERT),
                             xaxis=xa, yaxis=ya, showlegend=False))

# Legend samples on an auxiliary axis (rows from top: 5.5 .. 0.5)
rows = [5.5, 4.5, 3.5, 2.5, 1.5, 0.5]
for key, r in zip(["ocean", "deep", "desert"], rows[:3]):
    fig.add_trace(go.Scatter(x=[0.5], y=[r], mode="markers", marker=mk_leg[key],
                             xaxis="x3", yaxis="y3", showlegend=False, hoverinfo="skip"))
for dash, wdt, r in zip([DASH_OCEAN, DASH_DEEP, DASH_DESERT], [5, 6, 5], rows[3:]):
    fig.add_trace(go.Scatter(x=[0, 1], y=[r, r], mode="lines", line=dict(color="black", width=wdt, dash=dash),
                             xaxis="x3", yaxis="y3", showlegend=False, hoverinfo="skip"))

tickfont = dict(family=FONT, size=22, color=TXT)
common_x = dict(type="date", tickformat="%b%y", dtick="M6", ticks="inside", ticklen=14, tickwidth=2,
                tickcolor="black", showline=True, linecolor="black", linewidth=3, showgrid=False,
                zeroline=False, tickangle=0, tickfont=tickfont, ticklabelstandoff=1, automargin=False)
common_y = dict(dtick=0.05, ticks="inside", ticklen=16, tickwidth=2, tickcolor="black", showline=True,
                linecolor="black", linewidth=3, showgrid=False, zeroline=False, mirror="ticks",
                tickfont=tickfont, ticklabelstandoff=8, automargin=False)

fig.update_layout(
    width=W, height=H, autosize=False, margin=dict(l=0, r=0, t=0, b=0, autoexpand=False),
    paper_bgcolor=BG, plot_bgcolor=BG, showlegend=False,
    xaxis=dict(common_x, domain=[px(145), px(955)], range=["2004-01-01", "2007-07-01"],
               tick0="2004-01-01", mirror="ticks", anchor="y",
               minor=dict(dtick="M1", tick0="2004-01-01", ticks="inside", ticklen=7, tickwidth=2,
                          tickcolor="black", showgrid=False)),
    yaxis=dict(common_y, domain=[py(617), py(34)], range=[0.7, 1.1], anchor="x"),
    xaxis2=dict(common_x, domain=[px(147), px(960)], range=["2007-01-01", "2013-07-01"],
                tick0="2007-01-01", mirror=False, anchor="y2", ticklen=15, ticklabelstandoff=0,
                tickfont=dict(family=FONT, size=21, color=TXT),
                minor=dict(dtick="M1", tick0="2007-01-01", ticks="inside", ticklen=7, tickwidth=2,
                           tickcolor="black", showgrid=False)),
    yaxis2=dict(common_y, domain=[py(1087), py(657)], range=[0.7, 0.7 + 430 / 1460], anchor="x2",
                ticklen=17),
    xaxis3=dict(domain=[px(1185), px(1255)], range=[0, 1], visible=False, anchor="y3", fixedrange=True,
                automargin=False),
    yaxis3=dict(domain=[py(163), py(33)], range=[0, 6], visible=False, anchor="x3", fixedrange=True,
                automargin=False),
)

# Background decorations of the composite picture
fig.add_shape(type="rect", xref="paper", yref="paper", x0=0, x1=px(14), y0=py(655), y1=1,
              fillcolor="white", line_width=0, layer="below")
fig.add_shape(type="rect", xref="paper", yref="paper", x0=px(14), x1=px(21), y0=py(655), y1=1,
              fillcolor="#c4bccf", line_width=0, layer="below")
fig.add_shape(type="rect", xref="paper", yref="paper", x0=0, x1=px(30), y0=0, y1=py(657),
              fillcolor="white", line_width=0, layer="below")

ann = []
# axis titles
ann.append(dict(text="G2 radiance / ADM", x=px(38), y=py(326), xref="paper", yref="paper",
                xanchor="center", yanchor="middle",
                textangle=-90, showarrow=False, font=dict(family=FONT, size=20, color=TXT)))
ann.append(dict(text="G1 radiance / ADM", x=px(40), y=py(795), xref="paper", yref="paper",
                xanchor="center", yanchor="middle",
                textangle=-90, showarrow=False, font=dict(family=FONT, size=20, color=TXT)))
# legend labels
for lab, yy in zip(legend_labels, [44, 66, 87, 109, 131, 152]):
    ann.append(dict(text=lab, x=px(1171), y=py(yy), xref="paper", yref="paper", xanchor="right",
                    yanchor="middle", showarrow=False, height=20,
                    font=dict(family=FONT, size=21, color=TXT)))
# drift texts
for (x0, x1, ys, lines) in [(963, 980, [449, 490, 530, 571], g2_drifts),
                            (968, 985, [918, 959, 1000, 1041], g1_drifts)]:
    ann.append(dict(text="Drifts:", x=px(x0), y=py(ys[0]), xref="paper", yref="paper", xanchor="left",
                    yanchor="middle", showarrow=False, font=dict(family=FONT, size=22, color=TXT)))
    for t, yy in zip(lines, ys[1:]):
        ann.append(dict(text=t, x=px(x1), y=py(yy), xref="paper", yref="paper", xanchor="left",
                        yanchor="middle", showarrow=False, font=dict(family=FONT, size=22, color=TXT)))
fig.update_layout(annotations=ann)

fig.write_html("out.html")
